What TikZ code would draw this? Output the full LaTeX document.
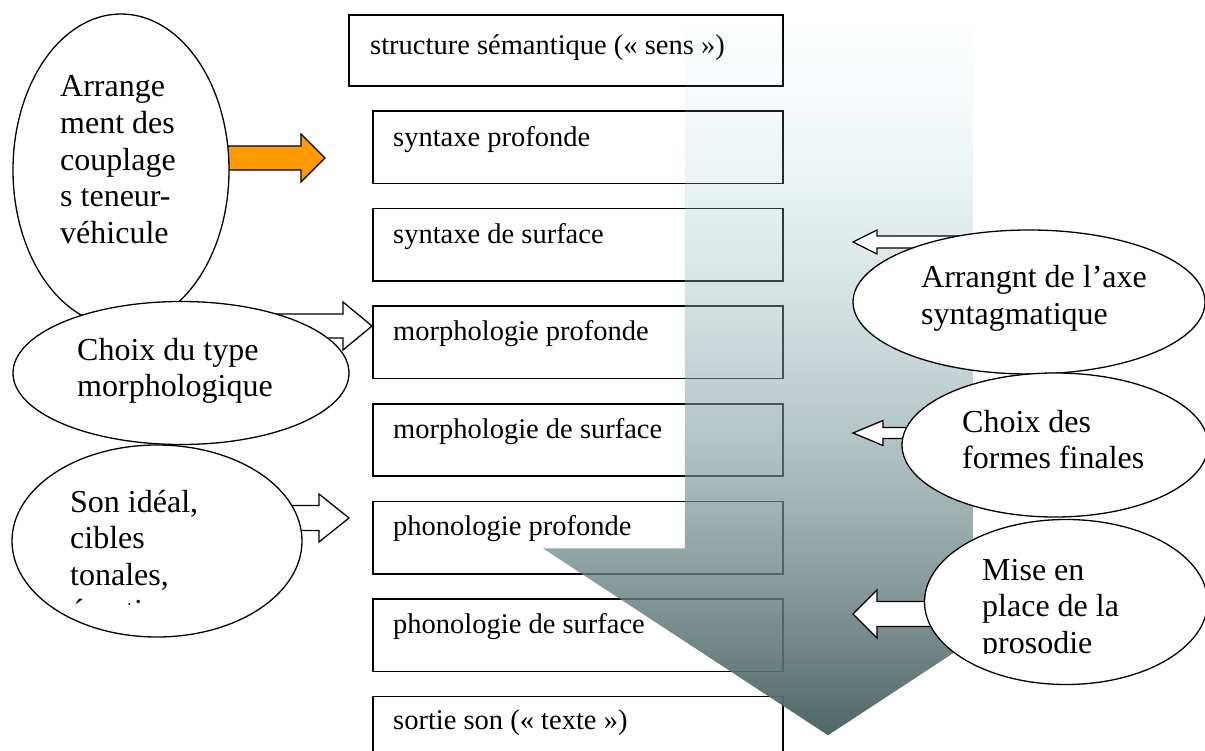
\documentclass[tikz,border=0pt]{standalone}
\usepackage{fontspec}
\setmainfont{Liberation Serif}
\usepackage{tikz}
\usetikzlibrary{positioning}
\usetikzlibrary{shapes.geometric}
\usetikzlibrary{fadings}

\definecolor{orangefl}{RGB}{255,153,0}
\definecolor{hautfl}{RGB}{195,234,236}
\definecolor{milieufl}{RGB}{112,160,163}
\definecolor{basfl}{RGB}{80,101,101}

\tikzset{
  etage/.style={draw, line width=1.6pt, minimum width=410pt, minimum height=72.5pt, inner sep=0pt},
  etiq/.style={font=\fontsize{28.5}{32}\selectfont, inner sep=0pt, anchor=base west},
  bulle/.style={ellipse, draw, fill=white, line width=1.3pt, inner sep=0pt},
  bulletxt/.style={font=\fontsize{32}{36.6}\selectfont, inner sep=0pt, anchor=base west, align=flush left, text width=#1},
  bulletxt/.default=240pt,
  fleche/.style={draw, fill=white, line width=1.3pt, line join=miter},
}

% tail x, head base x, tip x, y, shaft half, head half
\newcommand{\blocfleche}[7][]{%
  \draw[fleche,#1] ({#2},{#5-#6}) -- ({#3},{#5-#6}) -- ({#3},{#5-#7}) -- ({#4},{#5})
    -- ({#3},{#5+#7}) -- ({#3},{#5+#6}) -- ({#2},{#5+#6}) -- cycle;}

\begin{document}
\begin{tikzpicture}[x=1pt, y=-1pt]
    \useasboundingbox (0,0) rectangle (1205,751);

        % Define nodes
        \node[etage, minimum width=434pt, minimum height=71pt, anchor=north west] (sem) at (348,14) {};
        \node[etage, below=23.5pt of sem.south east, anchor=north east] (synp) {};
        \node[etage, below=23.5pt of synp] (syns) {};
        \node[etage, below=23.5pt of syns] (morp) {};
        \node[etage, below=23.5pt of morp] (mors) {};
        \node[etage, below=23.5pt of mors] (phop) {};
        \node[etage, below=23.5pt of phop] (phos) {};
        \node[etage, below=23.5pt of phos] (sort) {};

        \node[etiq] (tsem) at ([xshift=22pt, yshift=-41pt]sem.north west) {structure sémantique («~sens~»)};
        \node[etiq] (tsynp) at ([xshift=21pt, yshift=-36pt]synp.north west) {syntaxe profonde};
        \node[etiq] (tsyns) at ([xshift=21pt, yshift=-36pt]syns.north west) {syntaxe de surface};
        \node[etiq] (tmorp) at ([xshift=21pt, yshift=-35pt]morp.north west) {morphologie profonde};
        \node[etiq] (tmors) at ([xshift=21pt, yshift=-36pt]mors.north west) {morphologie de surface};
        \node[etiq] (tphop) at ([xshift=21pt, yshift=-35pt]phop.north west) {phonologie profonde};
        \node[etiq] (tphos) at ([xshift=21pt, yshift=-35pt]phos.north west) {phonologie de surface};
        \node[etiq] (tsort) at ([xshift=21pt, yshift=-34pt]sort.north west) {sortie son («~texte~»)};

        % big descending arrow
        \shade[top color=hautfl, middle color=milieufl, bottom color=basfl, path fading=north]
          (685,8) -- (973,8) -- (973,548) -- (1113,548) -- (828,735) -- (543,548) -- (685,548) -- cycle;

        % block arrows
        \blocfleche[fill=orangefl]{215}{301}{325}{158}{12}{24}
        \blocfleche{250}{343}{372}{326}{12}{24}
        \blocfleche{270}{319}{349}{518}{12.5}{24}
        \blocfleche{990}{877}{853}{242}{6}{12}
        \blocfleche{960}{883}{853}{433}{5.5}{12.5}
        \blocfleche{960}{877}{853}{614}{12.5}{24}

        % ellipses
        \node[bulle, minimum width=216pt, minimum height=312pt] (arr) at (121,170) {};
        \node[bulle, minimum width=336pt, minimum height=143pt] (typ) at (181,373) {};
        \node[bulle, minimum width=290pt, minimum height=192pt] (son) at (157,541) {};
        \node[bulle, minimum width=352pt, minimum height=144pt] (axe) at (1029,302) {};
        \node[bulle, minimum width=306pt, minimum height=144pt] (fin) at (1055,445) {};
        \node[bulle, minimum width=283pt, minimum height=165pt] (pros) at (1066,602) {};

        \node[bulletxt] (tarr) at (60,97) {Arrange\\ment des\\couplage\\s teneur-\\véhicule};
        \node[bulletxt] (ttyp) at (77,360) {Choix du type\\morphologique};
        \begin{scope}
          \clip (20,450) rectangle (300,604);
          \node[bulletxt] (tson) at (70,512) {Son idéal,\\cibles\\tonales,\\émotion};
        \end{scope}
        \node[bulletxt] (taxe) at (921,288) {Arrangnt de l’axe\\syntagmatique};
        \node[bulletxt] (tfin) at (962,432) {Choix des\\formes finales};
        \begin{scope}
          \clip (930,530) rectangle (1205,653);
          \node[bulletxt, text width=200pt] (tpros) at (982,580) {Mise en\\place de la\\prosodie};
        \end{scope}
      \end{tikzpicture}
\end{document}
